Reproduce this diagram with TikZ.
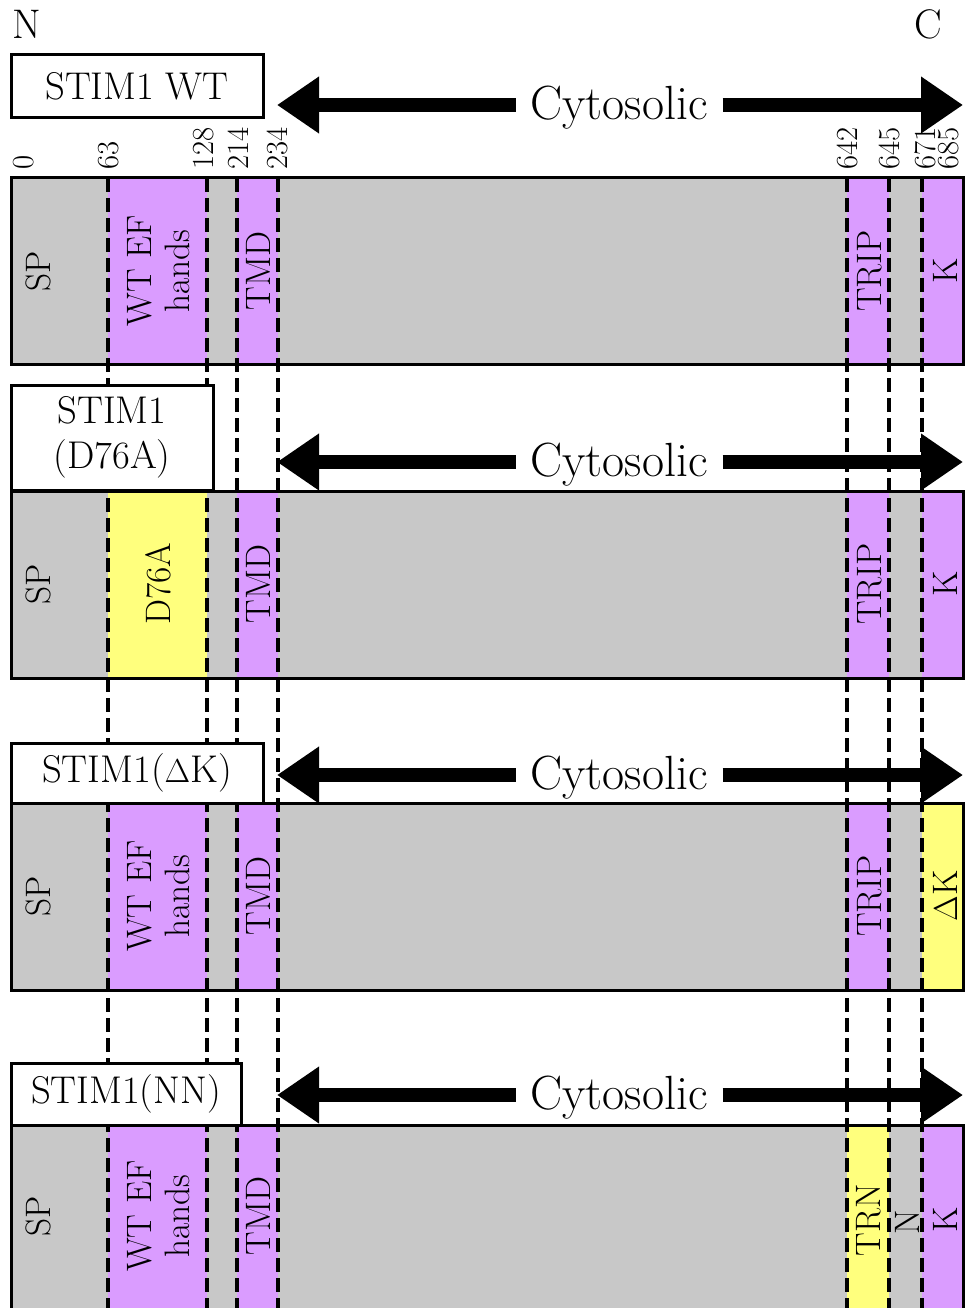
\documentclass[tikz,border=0pt]{standalone}
\usetikzlibrary{arrows.meta}
\definecolor{segGray}{RGB}{200,200,200}
\definecolor{segPurple}{RGB}{218,156,255}
\definecolor{segYellow}{RGB}{255,255,125}

% one protein bar: top, bottom, EF colour, TRIP colour, K colour
\newcommand\proteinrow[5]{%
  \fill[segGray]   (11,#1)  rectangle (963,#2);
  \fill[#3]        (108,#1) rectangle (207,#2);
  \fill[segPurple] (237,#1) rectangle (278,#2);
  \fill[#4]        (847,#1) rectangle (889,#2);
  \fill[#5]        (922,#1) rectangle (963,#2);
}

\tikzset{
  border/.style={draw=black, line width=2.25pt},
  dline/.style={draw=black, line width=3.2pt, dash pattern=on 10.5pt off 4.5pt},
  tagbox/.style={draw=black, fill=white, line width=2.25pt, inner sep=0pt,
    font=\fontsize{29}{34}\selectfont, align=center},
  cyt/.style={font=\fontsize{36}{38}\selectfont, inner xsep=11pt, inner ysep=0pt},
  arrowline/.style={line width=10.5pt, -{Triangle[length=31.5pt,width=40.5pt]}},
  dom/.style={rotate=90, font=\fontsize{26.5}{28.5}\selectfont, align=center, inner sep=0pt},
  num/.style={rotate=90, anchor=west, font=\fontsize{23}{24}\selectfont, inner sep=0pt},
  term/.style={font=\fontsize{31}{32}\selectfont, inner sep=0pt},
}

\begin{document}
\begin{tikzpicture}[x=0.75pt, y=-0.75pt]
\clip (0,0) rectangle (965,1308);

% coloured domains of the four constructs
\proteinrow{178}{365}{segPurple}{segPurple}{segPurple}
\proteinrow{491}{678}{segYellow}{segPurple}{segPurple}
\proteinrow{803}{990}{segPurple}{segPurple}{segYellow}
\proteinrow{1125}{1312}{segPurple}{segYellow}{segPurple}

% domain boundaries running through all constructs
\foreach \x/\nm in {108/a,207/b,237/c,278/d,847/e,889/f,922/g}{
  \coordinate (top\nm) at (\x,178);
  \coordinate (bot\nm) at (\x,1312);
  \draw[dline] (top\nm) -- (bot\nm);
}

% bar outlines
\draw[border] (11,178) rectangle (963,365);
\draw[border] (11,491) rectangle (963,678);
\draw[border] (11,803) rectangle (963,990);
\draw[border] (11,1125) rectangle (963,1312);

% termini
\node[term] (nterm) at (27,24) {N};
\node[term] (cterm) at (928,24) {C};

% residue numbers
\node[num] (n0)   at (24,170)  {0};
\node[num] (n63)  at (109,170) {63};
\node[num] (n128) at (204,170) {128};
\node[num] (n214) at (238,170) {214};
\node[num] (n234) at (277,170) {234};
\node[num] (n642) at (847,170) {642};
\node[num] (n645) at (889,170) {645};
\node[num] (n671) at (925,170) {671};
\node[num] (n685) at (949,170) {685};

% construct names
\node[tagbox, minimum width=189pt, minimum height=47.25pt] (t1) at (137,86.5) {STIM1 WT};
\node[tagbox, minimum width=151.5pt, minimum height=78.75pt] (t2) at (112,437.5) {STIM1\\(D76A)};
\node[tagbox, minimum width=189pt, minimum height=45pt] (t3) at (137,773) {STIM1($\Delta$K)};
\node[tagbox, minimum width=172.5pt, minimum height=46.5pt] (t4) at (126,1094) {STIM1(NN)};

% cytosolic arrows
\foreach \i/\ya/\yt in {1/105/108, 2/462/465, 3/775/778, 4/1095/1098}{
  \coordinate (l\i) at (277,\ya);
  \coordinate (r\i) at (963,\ya);
  \node[cyt] (c\i) at (619,\yt) {Cytosolic};
  \draw[arrowline] (c\i.west |- l\i) -- (l\i);
  \draw[arrowline] (c\i.east |- r\i) -- (r\i);
}

% domain labels, row 1
\node[dom] (sp1)   at (38,271)  {SP};
\node[dom] (ef1)   at (159,271) {WT EF\\hands};
\node[dom] (tmd1)  at (258,271) {TMD};
\node[dom] (trip1) at (870,271) {TRIP};
\node[dom] (k1)    at (945,271) {K};

% row 2
\node[dom] (sp2)   at (38,584)  {SP};
\node[dom] (ef2)   at (158,584) {D76A};
\node[dom] (tmd2)  at (258,584) {TMD};
\node[dom] (trip2) at (870,584) {TRIP};
\node[dom] (k2)    at (945,584) {K};

% row 3
\node[dom] (sp3)   at (38,896)  {SP};
\node[dom] (ef3)   at (159,896) {WT EF\\hands};
\node[dom] (tmd3)  at (258,896) {TMD};
\node[dom] (trip3) at (870,896) {TRIP};
\node[dom] (k3)    at (945,896) {$\Delta$K};

% row 4
\node[dom] (sp4)   at (38,1216)  {SP};
\node[dom] (ef4)   at (159,1216) {WT EF\\hands};
\node[dom] (tmd4)  at (258,1216) {TMD};
\node[dom] (trn4)  at (869,1220) {TRN};
\node[dom] (nn4)   at (907,1222) {N};
\node[dom] (k4)    at (945,1220) {K};
\end{tikzpicture}
\end{document}
